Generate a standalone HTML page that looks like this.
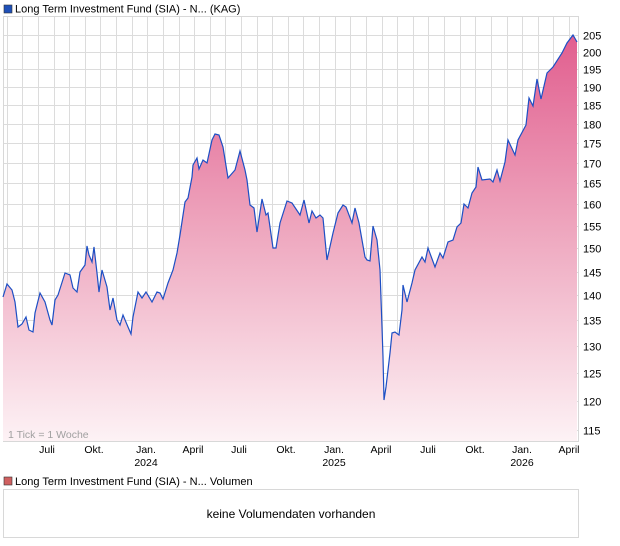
<!DOCTYPE html>
<html><head><meta charset="utf-8"><style>
html,body{margin:0;padding:0;background:#fff;width:620px;height:546px;overflow:hidden;font-family:"Liberation Sans",sans-serif;}
</style></head><body>
<svg width="620" height="546" xmlns="http://www.w3.org/2000/svg" font-family="Liberation Sans, sans-serif">
<defs>
<linearGradient id="g" x1="0" y1="16" x2="0" y2="441" gradientUnits="userSpaceOnUse">
<stop offset="0" stop-color="#e0578a"/>
<stop offset="0.5" stop-color="#eea6be"/>
<stop offset="1" stop-color="#fdf2f5"/>
</linearGradient>
</defs>
<rect x="4" y="5" width="8" height="8" fill="#1f50b8" stroke="#333" stroke-width="0.6"/>
<text x="15" y="12.5" font-size="11" fill="#000">Long Term Investment Fund (SIA) - N... (KAG)</text>
<g stroke="#dcdcdc" stroke-width="1" id="grid"></g>
<rect x="3.5" y="16.5" width="575" height="425" fill="none" stroke="#d8d8d8"/>
<path id="area" fill="url(#g)" stroke="none"/>
<polyline id="ln" fill="none" stroke="#1d4fc4" stroke-width="1.2"/>
<text x="8" y="438" font-size="10.5" fill="#a0a0a0">1 Tick = 1 Woche</text>
<g id="ylab" font-size="11" fill="#000"></g>
<g id="xlab" font-size="10.5" fill="#000" text-anchor="middle"></g>
<rect x="4" y="477" width="8" height="8" fill="#d06060" stroke="#333" stroke-width="0.6"/>
<text x="15" y="485" font-size="11" fill="#000">Long Term Investment Fund (SIA) - N... Volumen</text>
<rect x="3.5" y="489.5" width="575" height="48" fill="#fff" stroke="#d8d8d8"/>
<text x="291" y="518" font-size="12" fill="#000" text-anchor="middle">keine Volumendaten vorhanden</text>
</svg>
<script>
var NS="http://www.w3.org/2000/svg";
function el(t,a,p,txt){var e=document.createElementNS(NS,t);for(var k in a)e.setAttribute(k,a[k]);if(txt)e.textContent=txt;p.appendChild(e);return e;}
function Y(v){return 35+Math.log(205/v)*683;}
var grid=document.getElementById('grid'),yl=document.getElementById('ylab'),xl=document.getElementById('xlab');
for(var v=115;v<=205;v+=5){var y=Math.round(Y(v))+0.5;el('line',{x1:3,x2:578,y1:y,y2:y},grid);el('text',{x:583,y:y+4},yl,String(v));}
for(var k=0;k<37;k++){var x=Math.round(569-15.62*k)+0.5;if(x<5)break;el('line',{x1:x,x2:x,y1:16,y2:441},grid);}
var xs=[[47,"Juli"],[94,"Okt."],[146,"Jan."],[193,"April"],[239,"Juli"],[286,"Okt."],[334,"Jan."],[381,"April"],[428,"Juli"],[475,"Okt."],[522,"Jan."],[569,"April"]];
xs.forEach(function(a){el('text',{x:a[0],y:453},xl,a[1]);});
[[146,"2024"],[334,"2025"],[522,"2026"]].forEach(function(a){el('text',{x:a[0],y:466},xl,a[1]);});
var p=[[3,297],[7,284],[12,290],[15,302],[18,327],[22,324],[26,317],[29,330],[33,332],[35,313],[40,293],[45,302],[50,320],[52,325],[55,300],[58,295],[65,273],[70,275],[73,288],[77,292],[80,272],[85,265],[87,246],[89,255],[92,262],[94,247],[97,273],[99,292],[102,270],[107,287],[110,310],[113,298],[117,320],[120,325],[123,315],[128,327],[131,334],[133,317],[138,292],[142,298],[146,292],[152,302],[157,292],[160,293],[163,299],[168,283],[173,270],[177,253],[180,235],[185,202],[188,198],[192,177],[193,165],[197,158],[199,169],[203,160],[207,163],[212,140],[215,134],[219,135],[223,147],[228,178],[235,170],[240,151],[245,170],[247,180],[250,205],[254,208],[257,232],[262,199],[266,215],[268,213],[273,248],[276,248],[280,223],[287,201],[292,203],[300,215],[304,200],[309,223],[312,211],[316,218],[320,215],[323,218],[327,260],[333,233],[338,213],[343,205],[346,207],[352,223],[355,208],[359,223],[365,257],[367,260],[370,261],[373,226],[377,240],[380,270],[382,327],[383,357],[384,400],[386,387],[390,353],[392,333],[395,332],[399,335],[402,310],[403,285],[407,302],[412,283],[415,270],[422,257],[425,262],[428,248],[435,267],[440,253],[443,258],[448,242],[453,240],[457,227],[461,223],[464,204],[468,208],[472,193],[476,187],[478,167],[482,180],[490,179],[493,182],[497,170],[500,181],[505,162],[508,140],[515,155],[518,140],[526,125],[529,98],[533,106],[537,79],[541,99],[547,73],[553,67],[562,53],[567,43],[573,35],[577,42]];
var s=p.map(function(q){return q[0]+","+q[1];}).join(" ");
document.getElementById('ln').setAttribute('points',s);
document.getElementById('area').setAttribute('d',"M3,441 L"+s.split(" ").join(" L")+" L577,441 Z");
</script>
</body></html>
